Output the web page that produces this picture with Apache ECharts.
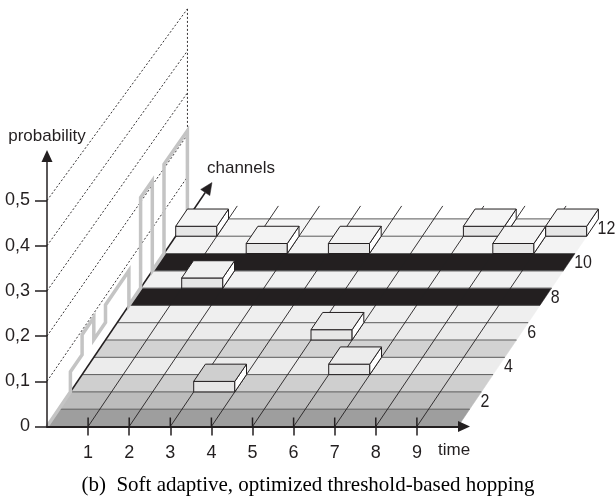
<!DOCTYPE html>
<html>
<head>
<meta charset="utf-8">
<script src="https://cdn.jsdelivr.net/npm/echarts@6/dist/echarts.min.js"></script>
<style>
  html, body { margin: 0; padding: 0; background: #ffffff; }
  #chart { width: 616px; height: 500px; }
</style>
</head>
<body>
<div id="chart"></div>
<script>
// ---- data ----
const channels = [1, 2, 3, 4, 5, 6, 7, 8, 9, 10, 11, 12];
// hopping probability of each channel (drawn as the step line on the side wall)
const channelProb = [0, 0, 0.045, 0.09, 0.04, 0.08, 0.08, 0, 0.21, 0, 0.21, 0.21];
const blockedChannels = [8, 10];
// channel picked in each time slot
const timeSlots = [1, 2, 3, 4, 5, 6, 7, 8, 9, 10];
const hopChannel = [12, 9, 11, 3, 11, 6, 4, 12, 11, 12];
// tick labels
const timeTicks = [1, 2, 3, 4, 5, 6, 7, 8, 9];
const probTicks = [0, 0.1, 0.2, 0.3, 0.4, 0.5];
const channelTicks = [2, 4, 6, 8, 10, 12];

// ---- layout / style ----
const GRID = { left: 47, right: 152, top: 156, bottom: 73.5 };
const PX_PER_T = 41.1;
const PX_PER_P = 452;
const X_MAX = (616 - GRID.left - GRID.right) / PX_PER_T;
const Y_MAX = (500 - GRID.top - GRID.bottom) / PX_PER_P;
// oblique depth step of one channel, expressed in axis units
const DEPTH_T = 11.7 / PX_PER_T;
const DEPTH_P = 17.3 / PX_PER_P;
const HEIGHT_FALLOFF = 0.0059;   // heights shrink slightly towards the back
const BOX_H = 0.0235;
const N_CH = channels.length;
const N_T = timeSlots.length;
const INK = '#231f20';
const FONT = '"Liberation Sans", Arial, sans-serif';
const ROW_SHADES = ['#9e9e9e', '#bcbcbc', '#cfcfcf', '#ececec', '#d2d2d2', '#ebebeb',
                    '#efefef', '#efefef', '#f1f1f1', '#f1f1f1', '#f3f3f3', '#f5f5f5'];

// project (time, channel depth, probability) onto the 2D axes
function P(api, t, c, p) {
  return api.coord([t + c * DEPTH_T, p * (1 - HEIGHT_FALLOFF * c) + c * DEPTH_P]);
}
function poly(points, fill, stroke, lw) {
  return { type: 'polygon', shape: { points: points },
           style: { fill: fill, stroke: stroke || fill, lineWidth: lw || 0.5 } };
}
function seg(a, b, style) {
  return { type: 'line', shape: { x1: a[0], y1: a[1], x2: b[0], y2: b[1] }, style: style };
}
function rowFill(c) {
  return blockedChannels.indexOf(c) >= 0 ? INK : ROW_SHADES[c - 1];
}

const maxTick = probTicks[probTicks.length - 1];

// dotted probability levels on the side wall
const wallSeries = {
  type: 'custom', coordinateSystem: 'cartesian2d', silent: true,
  data: probTicks.filter(v => v > 0).map(v => [0, v]),
  renderItem(params, api) {
    const v = api.value(1);
    const a = P(api, 0, 0, v), b = P(api, 0, N_CH, v);
    const dash = { stroke: INK, lineWidth: 0.9, lineDash: [2, 2] };
    const children = [seg(a, b, dash)];
    if (v === maxTick) {
      children.push(seg(b, P(api, 0, N_CH, channelProb[N_CH - 1]), dash));
    }
    return { type: 'group', children: children };
  }
};

// floor rows, one per channel
const floorSeries = {
  type: 'custom', coordinateSystem: 'cartesian2d', silent: true,
  data: channels.map((c, i) => [c, channelProb[i]]),
  renderItem(params, api) {
    const c = api.value(0);
    return poly([P(api, 0, c - 1, 0), P(api, N_T, c - 1, 0), P(api, N_T, c, 0), P(api, 0, c, 0)], rowFill(c));
  }
};

// row separators
const rowLineSeries = {
  type: 'custom', coordinateSystem: 'cartesian2d', silent: true,
  data: channels.map((c, i) => [c, channelProb[i]]),
  renderItem(params, api) {
    const c = api.value(0);
    return seg(P(api, 0, c, 0), P(api, N_T, c, 0), { stroke: '#5a5a5a', lineWidth: 1 });
  }
};

// time grid lines running into depth, plus upper half of the time ticks
const timeLineSeries = {
  type: 'custom', coordinateSystem: 'cartesian2d', silent: true,
  data: timeTicks.map(t => [t, 0]),
  renderItem(params, api) {
    const t = api.value(0);
    const base = api.coord([t, 0]);
    return { type: 'group', children: [
      seg(P(api, t, 0, 0), P(api, t, N_CH + 0.75, 0), { stroke: INK, lineWidth: 0.9 }),
      seg(base, [base[0], base[1] - 9], { stroke: INK, lineWidth: 1.5 })
    ] };
  }
};

// probability step line on the wall
const stepSeries = {
  type: 'custom', coordinateSystem: 'cartesian2d', silent: true,
  data: channels.map((c, i) => [c, channelProb[i]]),
  renderItem(params, api) {
    if (params.dataIndexInside !== 0) return null;
    const pts = [];
    const n = params.dataInsideLength;
    for (let j = 0; j < n; j++) {
      const c = api.value(0, j), p = api.value(1, j);
      pts.push(P(api, 0, c - 1, p), P(api, 0, c, p));
    }
    pts.push(P(api, 0, api.value(0, n - 1), 0));
    return { type: 'polyline', shape: { points: pts },
             style: { stroke: '#c4c4c4', lineWidth: 3.5, fill: null, lineJoin: 'miter' } };
  }
};

// channels axis along the left edge of the floor
const channelAxisSeries = {
  type: 'custom', coordinateSystem: 'cartesian2d', silent: true,
  data: [[0, 0]],
  renderItem(params, api) {
    const tail = P(api, 0, 0, 0);
    const tip = P(api, 0, N_CH + 2.1, 0);
    const dx = tip[0] - tail[0], dy = tip[1] - tail[1];
    const len = Math.sqrt(dx * dx + dy * dy);
    const ux = dx / len, uy = dy / len;
    const bx = tip[0] - ux * 12, by = tip[1] - uy * 12;
    return { type: 'group', children: [
      seg(tail, [bx, by], { stroke: INK, lineWidth: 1.5 }),
      poly([tip, [bx - uy * 5.5, by + ux * 5.5], [bx + uy * 5.5, by - ux * 5.5]], INK, INK, 0.5),
      { type: 'text', x: tip[0] - 5, y: tip[1] - 14,
        style: { text: 'channels', fill: INK, font: '17px ' + FONT, align: 'left', verticalAlign: 'middle' } }
    ] };
  }
};

// the selected channel in each time slot, drawn back to front
const hops = timeSlots.map((s, i) => [s, hopChannel[i]])
  .sort((a, b) => b[1] - a[1] || a[0] - b[0]);
const boxSeries = {
  type: 'custom', coordinateSystem: 'cartesian2d', silent: true,
  data: hops,
  renderItem(params, api) {
    const s = api.value(0), c = api.value(1);
    const t0 = s - 1, t1 = s, c0 = c - 1, c1 = c;
    const lw = 1;
    return { type: 'group', children: [
      poly([P(api, t0, c0, 0), P(api, t1, c0, 0), P(api, t1, c0, BOX_H), P(api, t0, c0, BOX_H)], '#e6e6e6', INK, lw),
      poly([P(api, t1, c0, 0), P(api, t1, c1, 0), P(api, t1, c1, BOX_H), P(api, t1, c0, BOX_H)], '#ffffff', INK, lw),
      poly([P(api, t0, c0, BOX_H), P(api, t1, c0, BOX_H), P(api, t1, c1, BOX_H), P(api, t0, c1, BOX_H)], rowFill(c) === INK ? '#f0f0f0' : rowFill(c), INK, lw)
    ] };
  }
};

// channel numbers along the right edge of the floor (set in a slightly narrowed face)
const channelLabelSeries = {
  type: 'custom', coordinateSystem: 'cartesian2d', silent: true,
  data: channelTicks.map(c => [c, 0]),
  renderItem(params, api) {
    const c = api.value(0);
    const pt = P(api, N_T, c - 0.5, 0);
    return { type: 'text', x: pt[0] + 5, y: pt[1] + 1, scaleX: 0.84,
             style: { text: String(c), fill: INK, font: '19px ' + FONT, align: 'left', verticalAlign: 'middle' } };
  }
};

const chart = echarts.init(document.getElementById('chart'), null, { renderer: 'canvas' });
chart.setOption({
  animation: false,
  backgroundColor: '#ffffff',
  title: {
    text: '(b)  Soft adaptive, optimized threshold-based hopping',
    left: 'center', top: 470,
    textStyle: { fontFamily: '"Liberation Serif", "Times New Roman", serif', fontSize: 21, fontWeight: 'normal', color: '#000000' }
  },
  grid: { left: GRID.left, right: GRID.right, top: GRID.top, bottom: GRID.bottom, containLabel: false, outerBoundsMode: 'none' },
  xAxis: {
    type: 'value', min: 0, max: X_MAX, z: 10,
    name: 'time', nameLocation: 'end', nameGap: -26,
    nameTextStyle: { fontFamily: FONT, fontSize: 17, color: INK, align: 'left', verticalAlign: 'top', padding: [15, 0, 0, 0] },
    axisLine: { show: true, lineStyle: { color: INK, width: 2 }, symbol: ['none', 'triangle'], symbolSize: [11, 12] },
    axisTick: { show: true, inside: false, length: 9, customValues: timeTicks, lineStyle: { color: INK, width: 1.5 } },
    axisLabel: { show: true, customValues: timeTicks, margin: 18, fontFamily: FONT, fontSize: 18, color: INK },
    splitLine: { show: false }
  },
  yAxis: {
    type: 'value', min: 0, max: Y_MAX, z: 10,
    name: 'probability', nameLocation: 'end', nameGap: 11,
    nameTextStyle: { fontFamily: FONT, fontSize: 17, color: INK, align: 'center', verticalAlign: 'bottom' },
    axisLine: { show: true, lineStyle: { color: INK, width: 1.5 }, symbol: ['none', 'triangle'], symbolSize: [11, 12] },
    axisTick: { show: true, inside: false, length: 12, customValues: probTicks, lineStyle: { color: INK, width: 1.5 } },
    axisLabel: {
      show: true, customValues: probTicks, margin: 17, fontFamily: FONT, fontSize: 18, color: INK,
      formatter: v => (v === 0 ? '0' : v.toFixed(1).replace('.', ','))
    },
    splitLine: { show: false }
  },
  series: [wallSeries, floorSeries, rowLineSeries, timeLineSeries, channelAxisSeries, stepSeries, boxSeries, channelLabelSeries]
});
</script>
</body>
</html>
